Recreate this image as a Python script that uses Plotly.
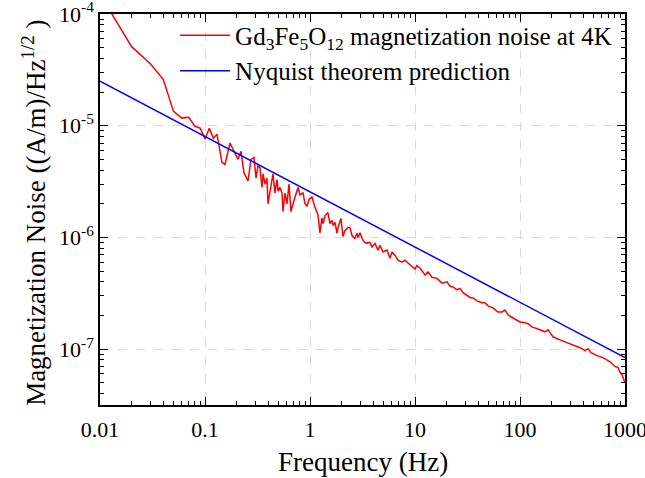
import plotly.graph_objects as go

freq_hz = [0.01, 0.02, 0.03, 0.04, 0.05, 0.06, 0.07, 0.08, 0.09, 0.10,
           0.11, 0.12, 0.13, 0.145, 0.155, 0.173, 0.189, 0.206, 0.220, 0.235,
           0.257, 0.274, 0.293, 0.306, 0.320, 0.334, 0.349, 0.357, 0.373, 0.389,
           0.398, 0.416, 0.435, 0.444, 0.464, 0.485, 0.496, 0.518, 0.541, 0.553,
           0.578, 0.604, 0.631, 0.659, 0.689, 0.736, 0.769, 0.803, 0.858, 0.896,
           0.936, 0.978, 1.045, 1.116, 1.19, 1.245, 1.30, 1.33, 1.39, 1.48,
           1.55, 1.62, 1.66, 1.73, 1.81, 1.85, 1.97, 2.06, 2.15, 2.30,
           2.40, 2.51, 2.68, 2.80, 2.87, 2.99, 3.13, 3.20, 3.34, 3.49,
           3.57, 3.73, 3.89, 4.16, 4.44, 4.64, 4.96, 5.41, 5.78, 6.04,
           6.45, 6.89, 7.52, 8.04, 8.58, 9.36, 10.0, 10.4, 11.2, 12.5,
           13.3, 14.5, 16.2, 18.1, 20.2, 21.5, 23.0, 25.1, 26.8, 28.7,
           31.3, 33.4, 35.7, 38.9, 43.4, 46.4, 49.6, 55.3, 61.7, 67.4,
           72.0, 76.9, 85.8, 100, 111.6, 119, 130, 139, 155, 173,
           185, 197, 206, 240, 281, 320, 373, 416, 444, 475,
           541, 617, 720, 803, 858, 896, 936, 1000]
noise = [1.5e-4, 5.1e-5, 3.6e-5, 2.6e-5, 1.35e-5, 1.17e-5, 1.19e-5, 9.9e-6, 9.5e-6, 7.6e-6,
         9.5e-6, 7.7e-6, 8.4e-6, 4.7e-6, 4.5e-6, 7.0e-6, 5.9e-6, 5.0e-6, 5.9e-6, 3.8e-6,
         3.2e-6, 5.0e-6, 5.2e-6, 3.4e-6, 4.4e-6, 4.2e-6, 2.8e-6, 3.7e-6, 3.0e-6, 3.4e-6,
         2.0e-6, 2.5e-6, 3.4e-6, 3.7e-6, 2.5e-6, 3.3e-6, 2.6e-6, 2.8e-6, 2.5e-6, 1.7e-6,
         2.5e-6, 2.0e-6, 3.0e-6, 1.7e-6, 2.0e-6, 2.5e-6, 2.8e-6, 2.4e-6, 2.5e-6, 2.0e-6,
         1.9e-6, 2.2e-6, 2.3e-6, 1.85e-6, 1.6e-6, 1.1e-6, 1.5e-6, 1.33e-6, 1.57e-6, 1.67e-6,
         1.33e-6, 1.42e-6, 1.28e-6, 1.36e-6, 1.09e-6, 1.23e-6, 1.48e-6, 1.02e-6, 1.15e-6, 1.23e-6,
         1.23e-6, 1.04e-6, 9.8e-7, 1.09e-6, 1.0e-6, 1.1e-6, 9.8e-7, 9.4e-7, 9.0e-7, 8.85e-7,
         9.0e-7, 9.0e-7, 8.15e-7, 8.85e-7, 7.7e-7, 8.5e-7, 7.4e-7, 7.7e-7, 6.5e-7, 7.4e-7,
         6.9e-7, 6.25e-7, 6.0e-7, 6.25e-7, 5.9e-7, 5.5e-7, 5.2e-7, 5.6e-7, 5.3e-7, 4.6e-7,
         4.9e-7, 4.4e-7, 4.3e-7, 3.9e-7, 4.0e-7, 3.67e-7, 3.6e-7, 3.4e-7, 3.5e-7, 3.2e-7,
         3.05e-7, 2.9e-7, 2.87e-7, 2.7e-7, 2.6e-7, 2.6e-7, 2.44e-7, 2.34e-7, 2.15e-7, 2.15e-7,
         2.24e-7, 2.03e-7, 1.9e-7, 1.75e-7, 1.72e-7, 1.69e-7, 1.58e-7, 1.55e-7, 1.49e-7, 1.43e-7,
         1.49e-7, 1.37e-7, 1.29e-7, 1.21e-7, 1.14e-7, 1.1e-7, 1.03e-7, 9.7e-8, 1.01e-7, 9.3e-8,
         8.75e-8, 8.4e-8, 7.7e-8, 7.0e-8, 6.85e-8, 6.2e-8, 5.9e-8, 5.0e-8]

# Nyquist theorem prediction (straight line in log-log)
nyquist_f = [0.01, 1000]
nyquist_v = [2.5e-5, 8.4e-8]

x_tickvals = [0.01, 0.1, 1, 10, 100, 1000]
x_ticktext = ["0.01", "0.1", "1", "10", "100", "1000"]
y_tickvals = [1e-7, 1e-6, 1e-5, 1e-4]
y_ticktext = ["10<sup>-7</sup>", "10<sup>-6</sup>", "10<sup>-5</sup>", "10<sup>-4</sup>"]

x_minor = [m * 10 ** e for e in range(-2, 3) for m in range(2, 10)]
y_minor = [m * 10 ** e for e in range(-8, -4) for m in range(2, 10)]

FONT = "Liberation Serif"

fig = go.Figure()
fig.add_trace(go.Scatter(
    x=freq_hz, y=noise, mode="lines",
    line=dict(color="#FF0000", width=1.5),
    name="Gd<sub>3</sub>Fe<sub>5</sub>O<sub>12</sub> magnetization noise at 4K"))
fig.add_trace(go.Scatter(
    x=nyquist_f, y=nyquist_v, mode="lines",
    line=dict(color="#0000FF", width=1.5),
    name="Nyquist theorem prediction"))

axis_common = dict(
    showline=True, linecolor="black", linewidth=1.5, mirror="allticks",
    ticks="inside", ticklen=8, tickwidth=1.2, tickcolor="black",
    showgrid=True, gridcolor="#d9d9d9", griddash="dash", gridwidth=1,
    zeroline=False, automargin=False, ticklabeloverflow="allow",
    tickfont=dict(family=FONT, size=22, color="black"),
)

fig.update_xaxes(
    type="log", range=[-2, 3], tickmode="array",
    tickvals=x_tickvals, ticktext=x_ticktext, ticklabelstandoff=4,
    minor=dict(tickmode="array", tickvals=x_minor, ticks="inside", ticklen=4,
               tickwidth=1, tickcolor="black", showgrid=False),
    **axis_common)
fig.update_yaxes(
    type="log", range=[-7.5, -4], tickmode="array",
    tickvals=y_tickvals, ticktext=y_ticktext,
    minor=dict(tickmode="array", tickvals=y_minor, ticks="inside", ticklen=4,
               tickwidth=1, tickcolor="black", showgrid=False),
    **axis_common)

# Axis titles as annotations for precise placement
fig.add_annotation(text="Frequency (Hz)", xref="paper", yref="paper",
                   x=0.5, y=-0.145, xanchor="center", yanchor="middle",
                   showarrow=False, font=dict(family=FONT, size=27, color="black"))
fig.add_annotation(text="Magnetization Noise ((A/m)/Hz<sup>1/2</sup> )",
                   xref="paper", yref="paper", x=-0.126, y=0.491,
                   xanchor="center", yanchor="middle", textangle=-90,
                   showarrow=False, font=dict(family=FONT, size=27, color="black"))

fig.update_layout(
    width=645, height=478,
    margin=dict(l=100, r=20, t=12, b=73),
    paper_bgcolor="white", plot_bgcolor="white",
    font=dict(family=FONT, color="black"),
    showlegend=True,
    legend=dict(x=0.143, y=1.004, xanchor="left", yanchor="top",
                bgcolor="rgba(0,0,0,0)", borderwidth=0,
                font=dict(family=FONT, size=25, color="black"),
                itemwidth=50, tracegroupgap=0),
)

fig.write_html("out.html", config={"displayModeBar": False},
               post_script="document.body.style.margin='0';document.body.style.overflow='hidden';")
